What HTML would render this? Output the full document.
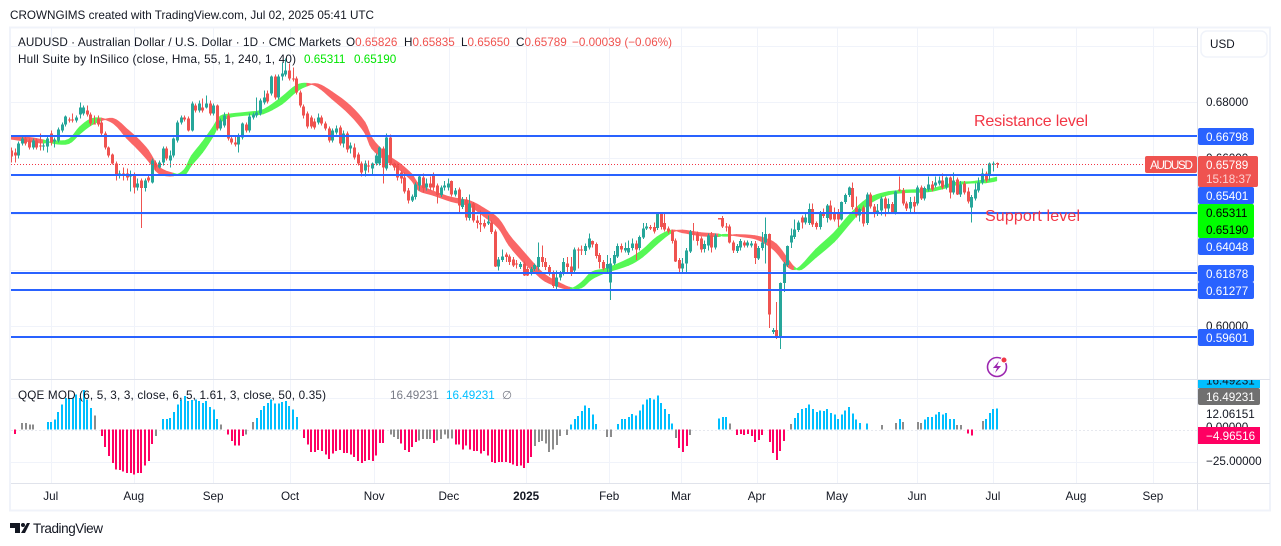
<!DOCTYPE html>
<html lang="en">
<head>
<meta charset="utf-8">
<title>AUDUSD chart</title>
<style>
html,body{margin:0;padding:0;background:#fff;width:1281px;height:546px;overflow:hidden}
svg{display:block;font-family:"Liberation Sans",sans-serif;font-size:11.7px}
text{white-space:pre}
</style>
</head>
<body>
<svg id="chart" width="1281" height="546" viewBox="0 0 1281 546" xmlns="http://www.w3.org/2000/svg">
  <rect x="0" y="0" width="1281" height="546" fill="#ffffff"/>
  <text x="10" y="19" fill="#131722" textLength="364">CROWNGIMS created with TradingView.com, Jul 02, 2025 05:41 UTC</text>

  <g id="grid"></g>
  <g id="ribbon"></g>
  <g id="candles"></g>
  <g id="levels"></g>
  <g id="lastPriceLine"></g>
  <g id="qqe"></g>
  <g id="timeAxis"></g>
  <g id="priceTicks"></g>

  <g fill="none">
    <rect x="10" y="27.5" width="1260" height="483" stroke="#f0f3fa" stroke-width="2"/>
    <line x1="1197.5" y1="28" x2="1197.5" y2="510" stroke="#e0e3eb"/>
    <line x1="11" y1="379.5" x2="1270" y2="379.5" stroke="#e0e3eb"/>
    <line x1="11" y1="483.5" x2="1270" y2="483.5" stroke="#e0e3eb"/>
  </g>

  <g>
    <text x="18" y="46" fill="#131722" textLength="323">AUDUSD · Australian Dollar / U.S. Dollar · 1D · CMC Markets</text>
    <text x="346" y="46" fill="#131722">O<tspan fill="#ef5350">0.65826</tspan></text>
    <text x="404" y="46" fill="#131722">H<tspan fill="#ef5350">0.65835</tspan></text>
    <text x="461" y="46" fill="#131722">L<tspan fill="#ef5350">0.65650</tspan></text>
    <text x="516" y="46" fill="#131722">C<tspan fill="#ef5350">0.65789</tspan></text>
    <text x="572" y="46" fill="#ef5350">−0.00039 (−0.06%)</text>
    <text x="18" y="63" fill="#131722" textLength="278">Hull Suite by InSilico (close, Hma, 55, 1, 240, 1, 40)</text>
    <text x="304" y="63" fill="#00e600">0.65311</text>
    <text x="354" y="63" fill="#00e600">0.65190</text>
    <text x="18" y="399" fill="#131722" textLength="308">QQE MOD (6, 5, 3, 3, close, 6, 5, 1.61, 3, close, 50, 0.35)</text>
    <text x="390" y="399" fill="#787b86">16.49231</text>
    <text x="446" y="399" fill="#00bfff">16.49231</text>
    <text x="502" y="399" fill="#787b86">∅</text>
  </g>

  <text x="974" y="126" font-size="16" fill="#f23645" textLength="114">Resistance level</text>
  <text x="985" y="221" font-size="16" fill="#f23645" textLength="95">Support level</text>

  <g fill="none">
    <circle cx="997" cy="367" r="9.5" stroke="#9c27b0" stroke-width="1.6"/>
    <path d="M999 361 L993 368 L997 368 L995 373 L1001 366 L997 366 Z" fill="#9c27b0"/>
    <circle cx="1004" cy="360" r="3" fill="#f23645" stroke="#ffffff"/>
  </g>

  <g>
    <rect x="1201" y="31" width="66" height="26" rx="6" fill="#ffffff" stroke="#f0f3fa" stroke-width="1.5"/>
    <text x="1210" y="48" fill="#131722">USD</text>
  </g>

  <g fill="#ffffff">
    <rect x="1145" y="156" width="52" height="17" rx="2" fill="#ef5350"/>
    <text x="1150" y="169" textLength="43">AUDUSD</text>
    <rect x="1198" y="128" width="56" height="17" rx="2" fill="#2962ff"/>
    <text x="1206" y="141">0.66798</text>
    <rect x="1198" y="156" width="60" height="31" rx="2" fill="#ef5350"/>
    <text x="1206" y="169">0.65789</text>
    <text x="1206" y="183" fill="#fbd0d0">15:18:37</text>
    <rect x="1198" y="187" width="56" height="17" rx="2" fill="#2962ff"/>
    <text x="1206" y="200">0.65401</text>
    <rect x="1198" y="204" width="56" height="34" rx="2" fill="#00ff00"/>
    <text x="1206" y="217" fill="#000000">0.65311</text>
    <text x="1206" y="234" fill="#000000">0.65190</text>
    <rect x="1198" y="238" width="56" height="17" rx="2" fill="#2962ff"/>
    <text x="1206" y="251">0.64048</text>
    <rect x="1198" y="265" width="56" height="17" rx="2" fill="#2962ff"/>
    <text x="1206" y="278">0.61878</text>
    <rect x="1198" y="282" width="56" height="17" rx="2" fill="#2962ff"/>
    <text x="1206" y="295">0.61277</text>
    <rect x="1198" y="329" width="56" height="17" rx="2" fill="#2962ff"/>
    <text x="1206" y="342">0.59601</text>
  </g>

  <g>
    <clipPath id="qqeTopClip"><rect x="1198" y="380" width="62" height="8"/></clipPath>
    <rect x="1198" y="380" width="62" height="8" fill="#00bfff"/>
    <text x="1206" y="384.5" fill="#131722" clip-path="url(#qqeTopClip)">16.49231</text>
    <rect x="1198" y="388" width="62" height="17" rx="2" fill="#707070"/>
    <text x="1206" y="401" fill="#ffffff">16.49231</text>
    <text x="1206" y="418" fill="#131722">12.06151</text>
    <text x="1206" y="431" fill="#131722">0.00000</text>
    <rect x="1198" y="427" width="62" height="17" fill="#ff0062"/>
    <text x="1206" y="440" fill="#ffffff">−4.96516</text>
    <text x="1206" y="465" fill="#131722">−25.00000</text>
  </g>

  <g>
    <path d="M10 523 H20 V533 H15 V528 H10 Z M27 523 H30 L25 533 H21 Z" fill="#131722"/>
    <circle cx="23" cy="525" r="2" fill="#131722"/>
    <text x="33" y="533" font-size="13.5" fill="#131722" textLength="70">TradingView</text>
  </g>
</svg>

<script>
// Daily AUDUSD candles, values in pips (price x 10000)
const opens = [
6627,6620,6609,6652,6670,6663,6638,6663,6645,6641,
6641,6688,6659,6663,6698,6720,6738,6738,6734,6755,
6759,6770,6755,6723,6741,6727,6688,6638,6613,6581,
6538,6545,6545,6534,6541,6495,6520,6492,6531,6513,
6584,6566,6584,6634,6591,6609,6663,6727,6745,6741,
6698,6788,6770,6780,6780,6795,6759,6788,6706,6716,
6752,6670,6656,6648,6673,6720,6698,6745,6752,6759,
6798,6830,6830,6891,6816,6891,6898,6912,6884,6884,
6834,6784,6759,6745,6731,6727,6745,6723,6706,6663,
6691,6709,6652,6688,6634,6638,6613,6581,6556,6574,
6563,6581,6581,6634,6563,6673,6581,6574,6549,6531,
6484,6449,6460,6502,6531,6495,6509,6538,6502,6467,
6495,6495,6517,6470,6488,6424,6452,6385,6438,6377,
6367,6367,6367,6370,6338,6213,6235,6256,6249,6238,
6224,6210,6224,6203,6188,6203,6210,6246,6228,6210,
6192,6142,6174,6188,6224,6213,6199,6274,6274,6267,
6281,6303,6292,6253,6228,6206,6156,6224,6249,6285,
6270,6263,6278,6295,6278,6317,6349,6353,6353,6349,
6402,6367,6349,6338,6306,6235,6206,6224,6267,6331,
6331,6313,6274,6288,6324,6281,6385,6385,6356,6356,
6299,6267,6281,6299,6288,6288,6295,6242,6278,6299,
6328,5978,5985,5960,6153,6217,6299,6317,6342,6388,
6370,6367,6417,6367,6353,6402,6385,6431,6402,6402,
6381,6442,6467,6492,6424,6395,6424,6367,6470,6427,
6402,6413,6456,6420,6435,6406,6488,6484,6438,6420,
6442,6438,6495,6456,6488,6506,6502,6509,6520,6495,
6531,6477,6524,6470,6509,6481,6424,6456,6484,6513,
6545,6538,6577,6583];
const highs = [
6638,6634,6659,6677,6677,6670,6670,6670,6688,6652,
6677,6698,6673,6709,6727,6752,6745,6759,6752,6798,
6788,6788,6763,6752,6752,6734,6695,6641,6616,6588,
6556,6566,6563,6556,6549,6527,6527,6527,6538,6599,
6591,6591,6641,6641,6627,6673,6734,6752,6752,6748,
6802,6795,6805,6813,6823,6805,6795,6791,6741,6763,
6763,6681,6681,6688,6727,6727,6759,6763,6816,6813,
6841,6841,6895,6898,6898,6941,6955,6937,6923,6891,
6841,6791,6766,6752,6741,6759,6752,6731,6713,6706,
6716,6716,6698,6695,6656,6652,6620,6588,6591,6591,
6584,6616,6641,6641,6688,6684,6584,6581,6556,6549,
6492,6470,6513,6541,6545,6527,6534,6549,6509,6502,
6517,6527,6520,6492,6495,6460,6460,6470,6442,6395,
6413,6381,6395,6377,6345,6246,6274,6263,6256,6246,
6235,6228,6231,6210,6210,6224,6299,6288,6242,6217,
6199,6199,6196,6242,6246,6246,6281,6281,6288,6295,
6331,6306,6299,6260,6235,6253,6242,6267,6295,6295,
6299,6306,6313,6306,6324,6367,6367,6360,6370,6406,
6406,6402,6356,6345,6313,6242,6242,6278,6342,6367,
6338,6320,6306,6331,6335,6331,6385,6392,6367,6363,
6306,6292,6310,6306,6306,6303,6303,6285,6335,6388,
6331,5992,6085,6156,6228,6288,6349,6381,6377,6395,
6406,6438,6438,6374,6410,6420,6435,6449,6424,6417,
6445,6474,6499,6513,6463,6424,6431,6477,6477,6435,
6435,6463,6463,6456,6442,6484,6534,6492,6445,6460,
6463,6502,6502,6499,6534,6517,6534,6534,6545,6534,
6534,6549,6531,6517,6517,6495,6467,6509,6531,6563,
6552,6584,6588,6584];
const lows = [
6584,6584,6599,6645,6645,6631,6631,6631,6627,6627,
6620,6645,6638,6656,6691,6713,6727,6727,6727,6741,
6752,6748,6716,6720,6713,6681,6631,6602,6577,6520,
6527,6520,6520,6481,6474,6484,6349,6481,6513,6509,
6556,6563,6574,6591,6566,6602,6656,6720,6731,6695,
6695,6763,6763,6763,6777,6752,6752,6698,6698,6709,
6663,6648,6641,6620,6666,6691,6691,6738,6745,6752,
6791,6795,6823,6809,6809,6877,6891,6877,6873,6827,
6780,6741,6706,6706,6702,6720,6716,6698,6656,6656,
6684,6645,6638,6620,6616,6595,6574,6534,6534,6549,
6538,6574,6574,6509,6556,6574,6556,6520,6509,6474,
6438,6442,6452,6484,6477,6484,6484,6484,6438,6460,
6484,6484,6463,6463,6406,6417,6377,6377,6370,6349,
6335,6349,6360,6328,6210,6199,6228,6228,6217,6210,
6206,6203,6178,6178,6181,6196,6199,6210,6199,6181,
6135,6131,6163,6181,6192,6178,6192,6206,6253,6253,
6274,6281,6242,6206,6199,6192,6092,6217,6242,6263,
6263,6253,6270,6235,6270,6310,6342,6342,6331,6342,
6345,6338,6331,6295,6228,6192,6192,6192,6260,6306,
6288,6263,6263,6270,6263,6274,6381,6349,6338,6295,
6260,6260,6270,6281,6281,6281,6221,6235,6270,6224,
5992,5971,5953,5917,6121,6210,6278,6310,6335,6349,
6363,6360,6353,6345,6345,6385,6370,6377,6374,6353,
6377,6435,6460,6417,6388,6374,6356,6360,6420,6388,
6392,6395,6392,6406,6402,6399,6481,6431,6410,6406,
6406,6431,6449,6449,6481,6481,6495,6502,6488,6488,
6456,6470,6467,6460,6470,6438,6370,6449,6477,6506,
6513,6520,6552,6565];
const closes = [
6606,6609,6652,6670,6652,6638,6663,6638,6641,6645,
6670,6656,6666,6702,6720,6748,6734,6734,6745,6780,
6780,6755,6723,6720,6720,6688,6638,6609,6581,6538,
6545,6541,6531,6541,6495,6509,6492,6520,6520,6591,
6566,6584,6634,6599,6609,6670,6727,6745,6738,6698,
6795,6770,6795,6770,6795,6759,6788,6706,6734,6752,
6670,6656,6648,6681,6723,6698,6748,6755,6763,6805,
6816,6802,6891,6816,6891,6902,6912,6884,6880,6834,
6788,6752,6713,6713,6709,6745,6723,6706,6663,6698,
6706,6652,6688,6631,6645,6602,6581,6549,6581,6570,
6581,6609,6638,6566,6673,6581,6566,6531,6527,6481,
6449,6463,6506,6534,6492,6509,6495,6495,6467,6495,
6502,6509,6470,6484,6431,6452,6388,6438,6377,6367,
6363,6356,6374,6335,6213,6238,6249,6246,6228,6217,
6221,6221,6181,6181,6203,6217,6246,6228,6210,6188,
6142,6174,6188,6228,6210,6188,6274,6270,6270,6285,
6313,6292,6249,6228,6206,6221,6224,6253,6285,6274,
6278,6278,6295,6274,6317,6349,6356,6349,6338,6402,
6353,6345,6338,6303,6231,6206,6224,6270,6338,6328,
6303,6274,6292,6324,6281,6324,6381,6356,6353,6299,
6270,6285,6303,6288,6299,6295,6242,6278,6299,6328,
6042,5985,5960,6153,6224,6285,6324,6345,6370,6370,
6388,6417,6363,6353,6402,6392,6431,6381,6381,6381,
6442,6467,6495,6424,6395,6417,6367,6470,6427,6402,
6413,6456,6420,6435,6406,6481,6484,6438,6420,6442,
6427,6495,6456,6492,6506,6488,6513,6520,6495,6531,
6477,6520,6470,6506,6477,6445,6460,6488,6513,6545,
6520,6581,6581,6579];

// Hull Suite ribbon, read at these bar numbers (pips)
const hullBars = [0,5,9,12,16,19,22,25,28,30,32,35,38,41,45,48,50,53,56,58,61,66,70,75,79,82,85,89,94,98,100,104,108,111,113,117,122,127,131,135,138,142,145,148,152,155,158,161,165,171,175,179,183,186,191,196,197,199,201,206,209,212,215,217,219,223,228,232,236,239,243,248,254,258,262,266,270,273];
const hullMain = [6668,6659,6654,6660,6666,6710,6738,6742,6727,6704,6672,6634,6591,6545,6537,6558,6607,6656,6711,6749,6757,6764,6773,6817,6859,6866,6854,6811,6754,6691,6634,6590,6555,6520,6484,6467,6445,6429,6392,6351,6288,6228,6192,6160,6139,6133,6155,6193,6206,6239,6272,6318,6342,6334,6323,6320,6326,6326,6322,6312,6294,6264,6214,6202,6217,6274,6333,6393,6443,6465,6479,6485,6488,6500,6513,6515,6522,6531];
const hullSignal = [6678,6673,6664,6652,6652,6686,6716,6734,6741,6728,6704,6670,6627,6567,6545,6540,6575,6620,6679,6727,6747,6754,6759,6793,6837,6858,6864,6835,6786,6727,6670,6614,6577,6542,6506,6481,6459,6447,6420,6383,6324,6264,6220,6182,6153,6137,6137,6169,6192,6217,6248,6294,6334,6342,6333,6328,6322,6322,6326,6322,6312,6292,6242,6210,6203,6246,6301,6361,6419,6447,6469,6477,6480,6490,6505,6511,6512,6519];

// QQE MOD histogram values per bar; null means no visible bar
const qqeValues = [
null,-3.4,null,5.2,5.2,3.9,3.9,null,null,null,
6,6,7.8,13.8,19.5,24.7,24.7,24.7,27.3,24.7,
30.7,23.4,16.9,10.9,null,-5.2,-13.5,-20.8,-26,-31.2,
-31.7,-33,-33.8,-33.8,-35.1,-33.8,-33.8,-28.1,-24.7,-11.2,
-5.2,null,8.3,8.3,9.1,13.8,19.5,23.4,26,22.1,
22.9,23.4,22.1,20.8,22.1,17.7,15.6,8.3,3.9,null,
-3.9,-9.1,-12.5,-12.5,-5.2,-3.9,null,5.7,9.1,15.1,
18.2,20.8,23.4,20.3,20.3,21.3,22.1,18.2,15.6,9.9,
null,-6.5,-11.7,-17.4,-17.4,-16.1,-16.9,-19.5,-22.9,-18.7,
-16.9,-16.1,-18.2,-18.2,-19.5,-21.3,-24.7,-26,-24.7,-23.9,
-24.7,-20.3,-10.4,-10.4,null,-3.9,-5.7,-7.3,-10.9,-16.1,
-17.7,-13.5,-9.6,-8.6,-7.3,-7.3,-7.3,-10.4,-8.6,-7.3,
-3.9,-7,-7,-11.7,-11.7,-15.6,-12.5,-15.6,-16.9,-16.9,
-18.7,-16.9,-20.3,-25.2,-26,-25.2,-25.2,-25.2,-26,-27.3,
-28.6,-28.1,-29.9,-26,-21.3,-13,-9.9,-9.1,-10.9,-17.4,
-15.6,-12.2,-5.2,null,-4.4,3.9,8.3,10.4,14.3,18.7,
16.9,11.7,4.4,null,null,-5.7,-5.7,null,4.4,8.3,
8.3,9.9,12.2,10.9,14.8,19.5,23.4,24.7,23.4,26.5,
20.8,16.1,12.2,4.7,-6.5,-14.3,-17.7,-13,-4.4,null,
null,null,null,null,null,null,8.6,9.9,9.9,4.7,
null,-4.4,-3.6,-4.4,-3.6,-5.2,-9.9,-8.3,-4.4,null,
-9.9,-18.2,-23.9,-16.9,-9.1,null,4.4,9.1,13,16.1,
16.9,19.5,16.1,13.8,14.8,14.3,16.1,13,11.7,8.3,
11.7,14.8,17.7,12.5,7.8,5.2,null,4.7,null,null,
null,3.6,null,null,null,5.2,8.3,6,null,null,
null,6,5.2,7.8,9.9,9.9,11.7,13.8,11.7,13,
8.3,8.3,3.6,3.6,null,-3.1,-4.7,null,null,6.5,
8.3,13,16.1,16.49];
const qqeNeutralBars = [3,4,5,6,23,40,58,65,67,105,106,107,113,114,115,116,118,119,120,121,122,145,146,147,148,149,150,151,152,154,165,166,184,188,199,216,241,245,247,251,252,262,263,269];

// Horizontal levels and axis ticks
const levelPrices = [0.66798,0.65401,0.64048,0.61878,0.61277,0.59601];
const lastPrice = 0.65789;
const priceTickValues = [0.70,0.68,0.66,0.64,0.62,0.60];
const priceTickLabels = ["","0.68000","0.66000","","","0.60000"];
const qqeGridValues = [25,-25];
const timeTickLabels = ["Jul","Aug","Sep","Oct","Nov","Dec","2025","Feb","Mar","Apr","May","Jun","Jul","Aug","Sep"];
const timeTickBars = [11,34,56,77.3,100.6,121.3,142.7,165.7,185.6,206.6,228.8,251,272,295,316.3];

const NS = 'http://www.w3.org/2000/svg';
const barX = i => 11 + i * 3.61;
const priceY = p => 102 + (0.68 - p) * 2800;
const pipY = v => priceY(v / 10000);
const qqeY = v => 429.5 - v * 1.28;
const LEFT = 11, PANE_RIGHT = 1197;

function make(tag, parentId, attrs) {
  const el = document.createElementNS(NS, tag);
  for (const k in attrs) el.setAttribute(k, attrs[k]);
  document.getElementById(parentId).appendChild(el);
  return el;
}

// grid
timeTickBars.forEach(b => {
  const x = Math.round(barX(b)) + 0.5;
  const el = make('line', 'grid', {x1: x, x2: x, y1: 28, y2: 483, stroke: '#f0f3fa'});
  
  
});
priceTickValues.forEach(p => {
  const y = Math.round(priceY(p)) + 0.5;
  const el = make('line', 'grid', {x1: LEFT, x2: PANE_RIGHT, y1: y, y2: y, stroke: '#f0f3fa'});
  
  
});
qqeGridValues.forEach(v => {
  const y = Math.round(qqeY(v)) + 0.5;
  const el = make('line', 'grid', {x1: LEFT, x2: PANE_RIGHT, y1: y, y2: y, stroke: '#f0f3fa'});
  
  
});
{
  const y = Math.round(qqeY(0)) + 0.5;
  const el = make('line', 'grid', {x1: LEFT, x2: PANE_RIGHT, y1: y, y2: y, stroke: '#e6e8ee', 'stroke-dasharray': '2 2'});
  
  
}

// Hull ribbon: smooth curve through the read values
function spline(a, k, t) {
  const p0 = a[Math.max(k - 2, 0)], p1 = a[k - 1], p2 = a[k], p3 = a[Math.min(k + 1, a.length - 1)];
  return 0.5 * (2 * p1 + (p2 - p0) * t + (2 * p0 - 5 * p1 + 4 * p2 - p3) * t * t + (3 * p1 - p0 - 3 * p2 + p3) * t * t * t);
}
for (let k = 1; k < hullBars.length; k++) {
  const upper = [], lower = [];
  for (let s = 0; s <= 4; s++) {
    const t = s / 4;
    const x = barX(spline(hullBars, k, t));
    upper.push(x.toFixed(1) + ',' + pipY(spline(hullMain, k, t)).toFixed(1));
    lower.unshift(x.toFixed(1) + ',' + pipY(spline(hullSignal, k, t)).toFixed(1));
  }
  const rising = hullMain[k] > hullSignal[k];
  const el = make('polygon', 'ribbon', {
    points: upper.concat(lower).join(' '),
    fill: rising ? '#55f855' : '#fa6666',
    stroke: rising ? '#55f855' : '#fa6666',
    'stroke-width': 1.2,
    'stroke-linejoin': 'round'
  });
  
  
}

// Candles
closes.forEach((c, i) => {
  const o = opens[i], up = c >= o;
  const col = up ? '#26a69a' : '#ef5350';
  const cx = Math.round(barX(i));
  const wick = make('rect', 'candles', {
    x: cx, width: 1, y: pipY(highs[i]).toFixed(1),
    height: (pipY(lows[i]) - pipY(highs[i])).toFixed(1),
    fill: col, 'shape-rendering': 'crispEdges'
  });
  
  
  const top = pipY(Math.max(o, c)), bot = pipY(Math.min(o, c));
  const body = make('rect', 'candles', {
    x: cx - 1, width: 3, y: top.toFixed(1),
    height: Math.max(1, bot - top).toFixed(1),
    fill: col, 'shape-rendering': 'crispEdges'
  });
  
  
});

// Blue levels
levelPrices.forEach(p => {
  const y = Math.round(priceY(p));
  const el = make('line', 'levels', {x1: LEFT, x2: PANE_RIGHT, y1: y, y2: y, stroke: '#2962ff', 'stroke-width': 2, 'shape-rendering': 'crispEdges'});
  
  
});

// Last price dotted line
{
  const y = Math.round(priceY(lastPrice)) + 0.5;
  const el = make('line', 'lastPriceLine', {x1: LEFT, x2: 1145, y1: y, y2: y, stroke: '#f23645', 'stroke-dasharray': '1 2'});
  
  
}

// QQE histogram
qqeValues.forEach((v, i) => {
  if (v === null) return;
  const color = qqeNeutralBars.includes(i) ? '#8c8c8c' : (v >= 0 ? '#00bfff' : '#ff0062');
  const y0 = qqeY(Math.max(v, 0)), y1 = qqeY(Math.min(v, 0));
  const el = make('rect', 'qqe', {
    x: Math.round(barX(i) - 0.5), width: 2, y: y0.toFixed(1), height: (y1 - y0).toFixed(1), fill: color,
    'shape-rendering': 'crispEdges'
  });
  
  
});

// Time axis
timeTickLabels.forEach((label, i) => {
  const el = make('text', 'timeAxis', {
    x: barX(timeTickBars[i]), y: 500, 'text-anchor': 'middle', fill: '#131722',
    'font-weight': label === '2025' ? 'bold' : 'normal'
  });
  el.textContent = label;
  
  
});

// Price ticks
priceTickValues.forEach((p, i) => {
  if (!priceTickLabels[i]) return;
  const el = make('text', 'priceTicks', {x: 1206, y: priceY(p) + 4, fill: '#131722'});
  el.textContent = priceTickLabels[i];
  
  
});
</script>
</body>
</html>
